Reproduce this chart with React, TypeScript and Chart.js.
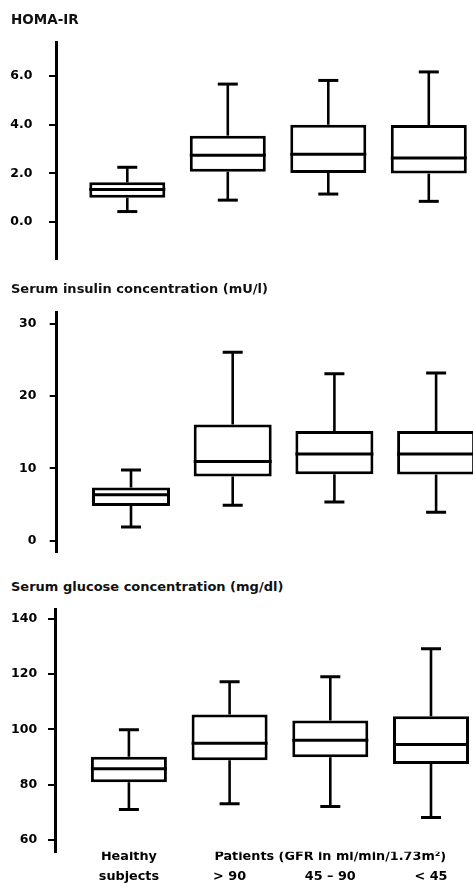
import React, { useEffect, useRef } from 'react';
import { Chart, registerables } from 'chart.js';

Chart.register(...registerables);

// ---------------- data ----------------
const CATEGORY_LABELS: string[][] = [
  ['Healthy', 'subjects'],
  ['', '> 90'],
  ['Patients (GFR in ml/min/1.73m²)', '45 – 90'],
  ['', '< 45'],
];

const HOMA_TITLE = 'HOMA-IR';
const HOMA_MIN = [0.43, 0.9, 1.15, 0.85];
const HOMA_Q1 = [1.0, 2.07, 2.02, 1.99];
const HOMA_MEDIAN = [1.34, 2.74, 2.79, 2.63];
const HOMA_Q3 = [1.63, 3.55, 4.0, 3.99];
const HOMA_MAX = [2.25, 5.67, 5.82, 6.17];
const HOMA_TICKS = [0, 2, 4, 6];

const INSULIN_TITLE = 'Serum insulin concentration (mU/l)';
const INSULIN_MIN = [1.9, 4.9, 5.35, 3.95];
const INSULIN_Q1 = [4.8, 8.9, 9.2, 9.15];
const INSULIN_MEDIAN = [6.37, 10.98, 12.0, 12.0];
const INSULIN_Q3 = [7.36, 16.1, 15.2, 15.2];
const INSULIN_MAX = [9.8, 26.1, 23.1, 23.2];
const INSULIN_TICKS = [0, 10, 20, 30];

const GLUCOSE_TITLE = 'Serum glucose concentration (mg/dl)';
const GLUCOSE_MIN = [71, 73.1, 72.1, 68.1];
const GLUCOSE_Q1 = [80.9, 88.9, 89.9, 87.5];
const GLUCOSE_MEDIAN = [85.8, 95.0, 96.1, 94.6];
const GLUCOSE_Q3 = [90.1, 105.4, 103.2, 104.8];
const GLUCOSE_MAX = [99.9, 117.3, 119.1, 129.2];
const GLUCOSE_TICKS = [60, 80, 100, 120, 140];

// ---------------- layout ----------------
type Stats = { min: number[]; q1: number[]; median: number[]; q3: number[]; max: number[] };

interface PanelLayout {
  top: number;
  height: number;
  padTop: number;
  padBottom: number;
  axisX: number;
  xMin: number;
  xMax: number;
  yMin: number;
  yMax: number;
  boxWidth: number;
  tickPad: number;
  decimals: number;
  xAxisHeight: number;
  titleTop: number;
  titleSize: number;
}

interface Panel {
  title: string;
  stats: Stats;
  ticks: number[];
  layout: PanelLayout;
}

const FONT = 'DejaVu Sans';

const PANELS: Panel[] = [
  {
    title: HOMA_TITLE,
    stats: { min: HOMA_MIN, q1: HOMA_Q1, median: HOMA_MEDIAN, q3: HOMA_Q3, max: HOMA_MAX },
    ticks: HOMA_TICKS,
    layout: {
      top: 0, height: 290, padTop: 42, padBottom: 31, axisX: 56,
      xMin: 0.2906, xMax: 4.4399, yMin: -1.52, yMax: 7.4,
      boxWidth: 76, tickPad: 16.6, decimals: 1, xAxisHeight: 0,
      titleTop: 12.6, titleSize: 13.5,
    },
  },
  {
    title: INSULIN_TITLE,
    stats: { min: INSULIN_MIN, q1: INSULIN_Q1, median: INSULIN_MEDIAN, q3: INSULIN_Q3, max: INSULIN_MAX },
    ticks: INSULIN_TICKS,
    layout: {
      top: 295, height: 270, padTop: 17.7, padBottom: 13.3, axisX: 56.7,
      xMin: 0.2694, xMax: 4.3628, yMin: -1.52, yMax: 31.56,
      boxWidth: 78, tickPad: 13.3, decimals: 0, xAxisHeight: 0,
      titleTop: 282.3, titleSize: 13,
    },
  },
  {
    title: GLUCOSE_TITLE,
    stats: { min: GLUCOSE_MIN, q1: GLUCOSE_Q1, median: GLUCOSE_MEDIAN, q3: GLUCOSE_Q3, max: GLUCOSE_MAX },
    ticks: GLUCOSE_TICKS,
    layout: {
      top: 595, height: 294, padTop: 14, padBottom: 0, axisX: 55,
      xMin: 0.2661, xMax: 4.4171, yMin: 55.76, yMax: 143.6,
      boxWidth: 76, tickPad: 10.9, decimals: 0, xAxisHeight: 37.3,
      titleTop: 580.3, titleSize: 13,
    },
  },
];

function buildChart(canvas: HTMLCanvasElement, stats: Stats, ticks: number[], L: PanelLayout) {
  const pts = (vals: number[]) => vals.map((y, i) => ({ x: i + 1, y }));
  const spans = (lo: number[], hi: number[]) => lo.map((v, i) => ({ x: i + 1, y: [v, hi[i]] }));
  const barCommon = {
    type: 'bar' as const,
    grouped: false,
    categoryPercentage: 1,
    barPercentage: 1,
    borderSkipped: false,
    inflateAmount: 0,
  };
  const whisker = {
    ...barCommon,
    backgroundColor: '#000',
    borderWidth: 0,
    maxBarThickness: 2.6,
    order: 3,
  };
  const cap = {
    type: 'line' as const,
    showLine: false,
    pointStyle: 'line' as const,
    pointRadius: 10,
    pointHoverRadius: 10,
    pointBorderWidth: 3,
    pointHoverBorderWidth: 3,
    pointBorderColor: '#000',
    pointBackgroundColor: '#000',
    order: 1,
  };

  const cfg: any = {
    type: 'bar',
    data: {
      datasets: [
        { ...whisker, label: 'lower whisker', data: spans(stats.min, stats.q1) },
        { ...whisker, label: 'upper whisker', data: spans(stats.q3, stats.max) },
        {
          ...barCommon,
          label: 'interquartile range',
          data: spans(stats.q1, stats.q3),
          backgroundColor: '#fff',
          borderColor: '#000',
          borderWidth: 3,
          maxBarThickness: L.boxWidth,
          order: 2,
        },
        {
          ...cap,
          label: 'median',
          data: pts(stats.median),
          pointRadius: L.boxWidth / 2,
          pointHoverRadius: L.boxWidth / 2,
          order: 0,
        },
        { ...cap, label: 'minimum', data: pts(stats.min) },
        { ...cap, label: 'maximum', data: pts(stats.max) },
      ],
    },
    options: {
      responsive: false,
      animation: false,
      events: [],
      layout: { autoPadding: false, padding: { top: L.padTop, bottom: L.padBottom, left: 0, right: 0 } },
      plugins: {
        legend: { display: false },
        tooltip: { enabled: false },
        title: { display: false },
      },
      scales: {
        x: {
          type: 'linear',
          min: L.xMin,
          max: L.xMax,
          offset: false,
          display: L.xAxisHeight > 0,
          grid: { display: false, drawTicks: false },
          border: { display: false },
          afterBuildTicks: (s: any) => {
            s.ticks = CATEGORY_LABELS.map((_, i) => ({ value: i + 1 }));
          },
          afterFit: (s: any) => {
            if (L.xAxisHeight > 0) s.height = L.xAxisHeight;
            s.paddingLeft = 0;
            s.paddingRight = 0;
          },
          ticks: {
            autoSkip: false,
            maxRotation: 0,
            minRotation: 0,
            padding: -4.4,
            color: '#000',
            font: { family: FONT, size: 12.8, weight: 'bold', lineHeight: 1.516 },
            callback: (v: any) => CATEGORY_LABELS[Math.round(Number(v)) - 1] ?? '',
          },
        },
        y: {
          type: 'linear',
          min: L.yMin,
          max: L.yMax,
          beginAtZero: false,
          grid: {
            display: true,
            drawOnChartArea: false,
            drawTicks: true,
            tickLength: 7,
            lineWidth: 2,
            color: '#000',
          },
          border: { display: true, width: 3, color: '#000' },
          afterBuildTicks: (s: any) => {
            s.ticks = ticks.map((value) => ({ value }));
          },
          afterFit: (s: any) => {
            s.width = L.axisX;
            s.paddingTop = 0;
            s.paddingBottom = 0;
          },
          ticks: {
            padding: L.tickPad,
            color: '#000',
            font: { family: FONT, size: 12.5, weight: 'bold' },
            callback: (v: any) => Number(v).toFixed(L.decimals),
          },
        },
      },
    },
  };
  return new Chart(canvas, cfg);
}

export default function App() {
  const refs = useRef<(HTMLCanvasElement | null)[]>([]);

  useEffect(() => {
    const charts = PANELS.map((p, i) => buildChart(refs.current[i] as HTMLCanvasElement, p.stats, p.ticks, p.layout));
    return () => charts.forEach((c) => c.destroy());
  }, []);

  return (
    <div
      style={{
        position: 'absolute',
        left: 0,
        top: 0,
        width: 473,
        height: 889,
        background: '#fff',
        overflow: 'hidden',
        fontFamily: FONT,
      }}
    >
      {PANELS.map((p, i) => (
        <React.Fragment key={i}>
          <canvas
            ref={(el) => {
              refs.current[i] = el;
            }}
            width={473}
            height={p.layout.height}
            style={{ position: 'absolute', left: 0, top: p.layout.top, display: 'block' }}
          />
          <div
            style={{
              position: 'absolute',
              left: 11,
              top: p.layout.titleTop,
              fontSize: p.layout.titleSize,
              fontWeight: 'bold',
              lineHeight: 1,
              color: '#111',
              whiteSpace: 'nowrap',
            }}
          >
            {p.title}
          </div>
        </React.Fragment>
      ))}
    </div>
  );
}
